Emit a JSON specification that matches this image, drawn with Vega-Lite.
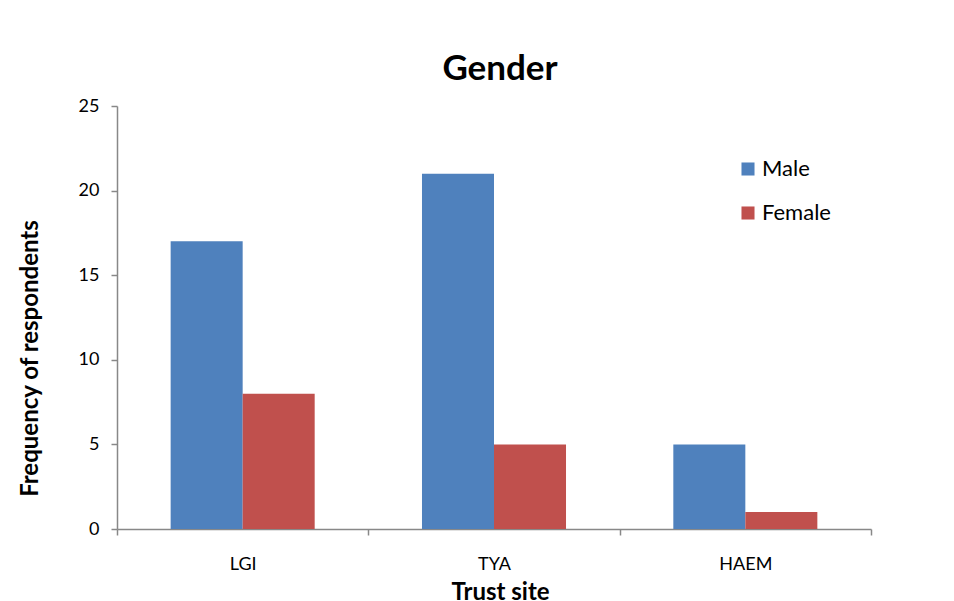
{
  "$schema": "https://vega.github.io/schema/vega-lite/v6.json",
  "width": 754,
  "height": 423,
  "autosize": {"type": "none"},
  "padding": {"left": 117, "top": 106, "right": 83, "bottom": 72},
  "background": "white",
  "title": {"text": "Gender", "fontSize": 35, "font": "Lato", "fontWeight": "bold", "color": "black", "anchor": "middle", "offset": 10, "dx": 6},
  "data": {"values": [
    {"site": "LGI", "gender": "Male", "count": 17},
    {"site": "LGI", "gender": "Female", "count": 8},
    {"site": "TYA", "gender": "Male", "count": 21},
    {"site": "TYA", "gender": "Female", "count": 5},
    {"site": "HAEM", "gender": "Male", "count": 5},
    {"site": "HAEM", "gender": "Female", "count": 1}
  ]},
  "mark": {"type": "bar"},
  "encoding": {
    "x": {
      "field": "site", "type": "nominal", "sort": ["LGI", "TYA", "HAEM"],
      "scale": {"paddingInner": 0, "paddingOuter": 0},
      "axis": {
        "title": "Trust site", "titleFont": "Lato", "titleFontSize": 24, "titleFontWeight": "bold", "titleColor": "black",
        "titleX": 383, "titleY": 63, "titleBaseline": "middle",
        "labelAngle": 0, "labelFont": "Lato", "labelFontSize": 18, "labelColor": "black", "labelPadding": 20,
        "tickBand": "extent", "tickColor": "#888888", "tickSize": 6, "domainColor": "#888888", "domainWidth": 1.5, "tickWidth": 1.5,
        "grid": false
      }
    },
    "xOffset": {"field": "gender", "type": "nominal", "sort": ["Male", "Female"], "scale": {"paddingInner": 0, "paddingOuter": 0.745}},
    "y": {
      "field": "count", "type": "quantitative",
      "scale": {"domain": [0, 25]},
      "axis": {
        "title": "Frequency of respondents", "titleFont": "Lato", "titleFontSize": 24, "titleFontWeight": "bold", "titleColor": "black",
        "titleX": -87, "titleY": 252, "titleAngle": -90, "titleAlign": "center", "titleBaseline": "middle",
        "values": [0, 5, 10, 15, 20, 25], "labelFont": "Lato", "labelFontSize": 18, "labelColor": "black", "labelPadding": 12,
        "tickColor": "#888888", "tickSize": 6, "domainColor": "#888888", "domainWidth": 1.5, "tickWidth": 1.5, "grid": false
      }
    },
    "color": {
      "field": "gender", "type": "nominal", "sort": ["Male", "Female"],
      "scale": {"domain": ["Male", "Female"], "range": ["#4F81BD", "#C0504D"]},
      "legend": {
        "title": null, "orient": "none", "legendX": 620, "legendY": 52,
        "symbolType": "square", "symbolSize": 170, "symbolStrokeWidth": 0,
        "labelFont": "Lato", "labelFontSize": 22, "labelColor": "black", "labelOffset": 3, "rowPadding": 22
      }
    }
  },
  "config": {"view": {"stroke": null}}
}
